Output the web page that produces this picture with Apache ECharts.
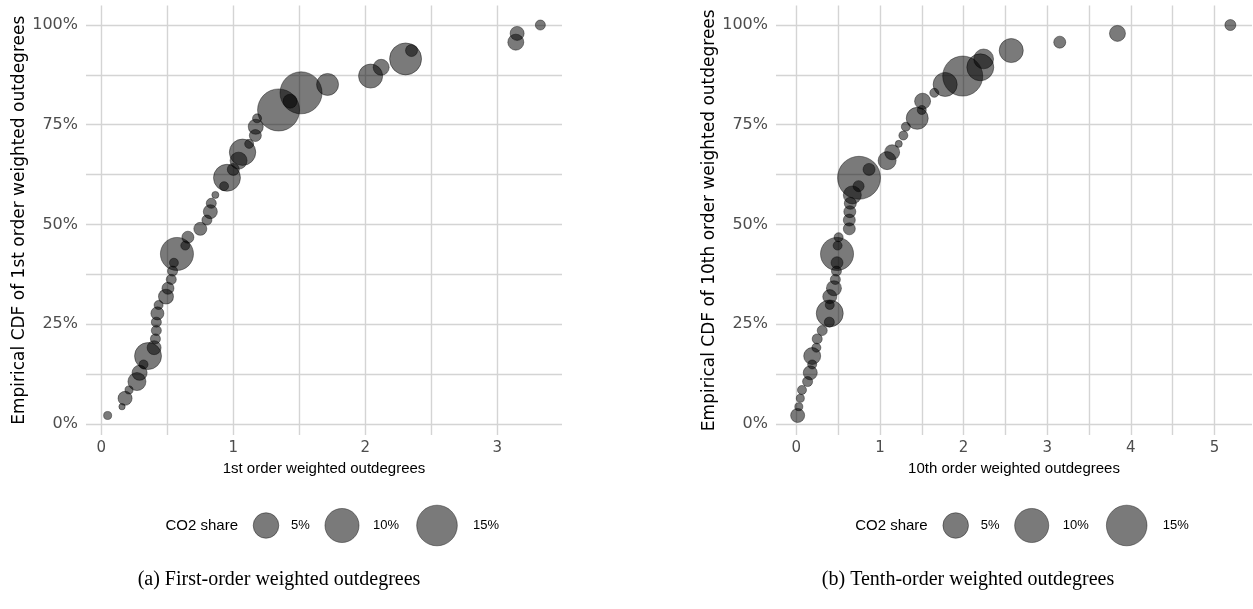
<!DOCTYPE html>
<html>
<head>
<meta charset="utf-8">
<script src="https://cdn.jsdelivr.net/npm/echarts@6/dist/echarts.min.js"></script>
<style>
  html, body { margin: 0; padding: 0; background: #ffffff; }
  #chart { width: 1253px; height: 609px; }
</style>
</head>
<body>
<div id="chart"></div>
<script>
// empirical CDF level of each country (rank / 47), in percent
const cdfLevels = [
  2.1, 4.3, 6.4, 8.5, 10.6, 12.8, 14.9, 17.0, 19.1, 21.3,
  23.4, 25.5, 27.7, 29.8, 31.9, 34.0, 36.2, 38.3, 40.4, 42.6,
  44.7, 46.8, 48.9, 51.1, 53.2, 55.3, 57.4, 59.6, 61.7, 63.8,
  66.0, 68.1, 70.2, 72.3, 74.5, 76.6, 78.7, 80.9, 83.0, 85.1,
  87.2, 89.4, 91.5, 93.6, 95.7, 97.9, 100.0
];

// panel (a): 1st order weighted outdegrees, sorted
const firstOrderX = [
  0.048, 0.157, 0.18, 0.21, 0.27, 0.29, 0.32, 0.354, 0.40, 0.41,
  0.417, 0.417, 0.425, 0.434, 0.49, 0.505, 0.53, 0.54, 0.55, 0.573,
  0.636, 0.656, 0.75, 0.80, 0.826, 0.833, 0.864, 0.93, 0.952, 1.0,
  1.04, 1.07, 1.12, 1.167, 1.17, 1.18, 1.343, 1.43, 1.513, 1.714,
  2.04, 2.12, 2.305, 2.35, 3.14, 3.15, 3.326
];
// CO2 share (%) of each point in panel (a)
const firstOrderShare = [
  0.11, 0.02, 0.96, 0.11, 2.0, 1.2, 0.19, 5.7, 0.96, 0.3,
  0.3, 0.3, 0.76, 0.19, 1.18, 0.58, 0.3, 0.3, 0.19, 9.3,
  0.19, 0.58, 0.76, 0.3, 0.96, 0.3, 0.05, 0.19, 5.7, 0.58,
  1.7, 5.4, 0.19, 0.58, 1.18, 0.19, 16.2, 0.96, 16.2, 3.4,
  4.3, 1.43, 8.6, 0.58, 1.43, 0.96, 0.3
];

// panel (b): 10th order weighted outdegrees, sorted
const tenthOrderX = [
  0.016, 0.03, 0.048, 0.068, 0.135, 0.167, 0.19, 0.19, 0.24, 0.25,
  0.31, 0.395, 0.40, 0.40, 0.40, 0.45, 0.467, 0.48, 0.487, 0.487,
  0.494, 0.506, 0.634, 0.634, 0.64, 0.646, 0.67, 0.745, 0.75, 0.87,
  1.086, 1.146, 1.225, 1.28, 1.31, 1.446, 1.50, 1.51, 1.65, 1.78,
  1.99, 2.2, 2.24, 2.57, 3.15, 3.84, 5.19
];
const tenthOrderShare = [
  0.96, 0.11, 0.11, 0.19, 0.3, 0.96, 0.19, 1.7, 0.19, 0.3,
  0.3, 0.3, 5.7, 0.19, 0.96, 1.18, 0.3, 0.3, 0.58, 9.3,
  0.19, 0.19, 0.58, 0.58, 0.58, 0.58, 2.0, 0.43, 17.0, 0.58,
  2.0, 1.18, 0.05, 0.19, 0.19, 3.4, 0.19, 1.43, 0.19, 4.3,
  14.5, 5.7, 2.6, 4.3, 0.58, 1.43, 0.43
];

const yTickLabels = [0, 25, 50, 75, 100];
const xTickLabelsA = [0, 1, 2, 3];
const xTickLabelsB = [0, 1, 2, 3, 4, 5];
const legendShares = [5, 10, 15];

// ggplot-like area scale: radius grows with sqrt(share)
const bubbleSize = (share) => 2 * (2.5 + 4.6 * Math.sqrt(share));

// major + minor grid positions (halfway between labelled ticks)
const withMinor = (ticks) => {
  const out = [];
  ticks.forEach((t, i) => {
    out.push(t);
    if (i < ticks.length - 1) out.push((t + ticks[i + 1]) / 2);
  });
  return out;
};

const expandMin = (v) => v.min - 0.05 * (v.max - v.min);
const expandMax = (v) => v.max + 0.05 * (v.max - v.min);

const textGrey = "#4d4d4d";
const gridColor = "#d4d4d4";
const font = "DejaVu Sans";

function xAxisFor(gridIndex, name, ticks) {
  return {
    type: "value",
    gridIndex: gridIndex,
    min: expandMin,
    max: expandMax,
    name: name,
    nameLocation: "middle",
    nameGap: 25,
    nameTextStyle: { color: "#000000", fontSize: 15, fontFamily: "Liberation Sans", verticalAlign: "top" },
    axisLine: { show: false },
    axisTick: { show: false, customValues: withMinor(ticks) },
    axisLabel: {
      customValues: ticks,
      color: textGrey,
      fontSize: 15,
      fontFamily: font,
      margin: 6,
    },
    splitLine: { show: true, lineStyle: { color: gridColor, width: 1.4 } },
  };
}

function yAxisFor(gridIndex, name) {
  return {
    type: "value",
    gridIndex: gridIndex,
    min: expandMin,
    max: expandMax,
    name: name,
    nameLocation: "middle",
    nameRotate: 90,
    nameGap: 58,
    nameTextStyle: { color: "#000000", fontSize: 17, fontFamily: font },
    axisLine: { show: false },
    axisTick: { show: false, customValues: withMinor(yTickLabels) },
    axisLabel: {
      customValues: yTickLabels,
      formatter: (v) => v + "%",
      color: textGrey,
      fontSize: 16,
      fontFamily: font,
      margin: 8,
    },
    splitLine: { show: true, lineStyle: { color: gridColor, width: 1.4 } },
  };
}

function bubbleSeries(index, xs, shares) {
  return {
    type: "scatter",
    xAxisIndex: index,
    yAxisIndex: index,
    data: xs.map((x, i) => [x, cdfLevels[i], shares[i]]),
    symbolSize: (d) => bubbleSize(d[2]),
    itemStyle: {
      color: "rgba(0,0,0,0.52)",
      borderColor: "rgba(0,0,0,0.4)",
      borderWidth: 1,
      opacity: 1,
    },
    emphasis: { disabled: true },
    clip: false,
  };
}

// legend keys drawn as graphics, sized by the same scale as the bubbles
function legendGraphics(offsetX) {
  const cy = 525.5;
  const circleX = [266, 342, 437];
  const labelX = [291, 373, 473];
  const items = [
    {
      type: "text",
      x: 238 + offsetX,
      y: cy,
      style: {
        text: "CO2 share",
        fill: "#000000",
        font: "15px Liberation Sans",
        align: "right",
        verticalAlign: "middle",
      },
    },
  ];
  legendShares.forEach((s, i) => {
    items.push({
      type: "circle",
      shape: { cx: circleX[i] + offsetX, cy: cy, r: bubbleSize(s) / 2 },
      style: { fill: "rgba(0,0,0,0.52)", stroke: "rgba(0,0,0,0.4)", lineWidth: 1 },
    });
    items.push({
      type: "text",
      x: labelX[i] + offsetX,
      y: cy,
      style: {
        text: s + "%",
        fill: "#000000",
        font: "13px Liberation Sans",
        verticalAlign: "middle",
      },
    });
  });
  return items;
}

const chart = echarts.init(document.getElementById("chart"));

const option = {
  backgroundColor: "#ffffff",
  animation: false,
  title: [
    {
      text: "(a) First-order weighted outdegrees",
      left: 274,
      top: 565,
      textAlign: "center",
      textStyle: { fontFamily: "Liberation Serif", fontSize: 20, fontWeight: "normal", color: "#000000" },
    },
    {
      text: "(b) Tenth-order weighted outdegrees",
      left: 963,
      top: 565,
      textAlign: "center",
      textStyle: { fontFamily: "Liberation Serif", fontSize: 20, fontWeight: "normal", color: "#000000" },
    },
  ],
  grid: [
    { left: 86, top: 5.5, width: 476, height: 429.5 },
    { left: 776, top: 5.5, width: 476, height: 429.5 },
  ],
  xAxis: [
    xAxisFor(0, "1st order weighted outdegrees", xTickLabelsA),
    xAxisFor(1, "10th order weighted outdegrees", xTickLabelsB),
  ],
  yAxis: [
    yAxisFor(0, "Empirical CDF of 1st order weighted outdegrees"),
    yAxisFor(1, "Empirical CDF of 10th order weighted outdegrees"),
  ],
  series: [
    bubbleSeries(0, firstOrderX, firstOrderShare),
    bubbleSeries(1, tenthOrderX, tenthOrderShare),
  ],
  graphic: legendGraphics(0).concat(legendGraphics(689.7)),
};

chart.setOption(option);
</script>
</body>
</html>
